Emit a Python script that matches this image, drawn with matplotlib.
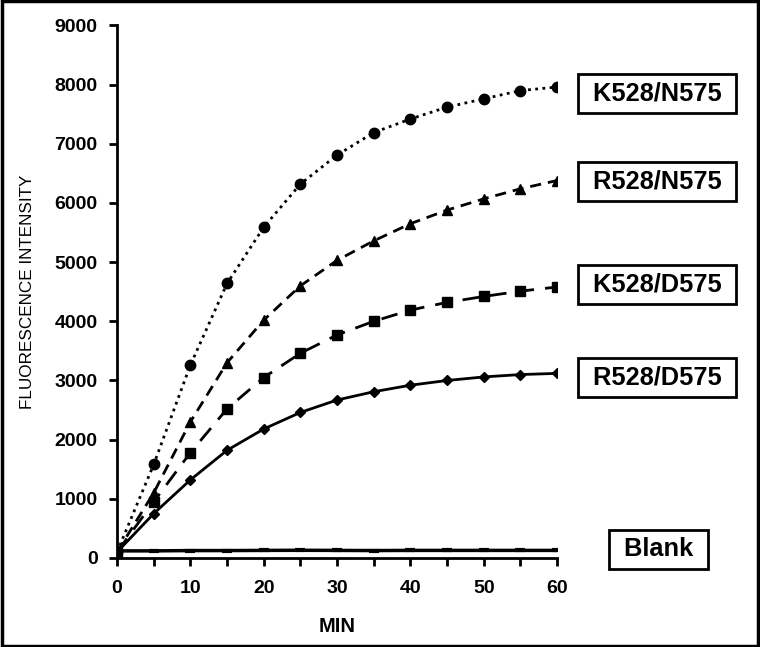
import matplotlib
matplotlib.use("Agg")
import matplotlib.pyplot as plt
from matplotlib.patches import Rectangle

plt.rcParams['font.family'] = ['Liberation Sans', 'DejaVu Sans']

minutes = [0, 5, 10, 15, 20, 25, 30, 35, 40, 45, 50, 55, 60]
k528_n575 = [100, 1580, 3260, 4640, 5590, 6320, 6810, 7190, 7420, 7620, 7760, 7900, 7960]
r528_n575 = [100, 1100, 2300, 3300, 4020, 4600, 5030, 5360, 5650, 5880, 6070, 6240, 6380]
k528_d575 = [100, 950, 1780, 2520, 3050, 3460, 3770, 4000, 4190, 4320, 4420, 4510, 4580]
r528_d575 = [100, 750, 1320, 1820, 2180, 2460, 2670, 2810, 2920, 3000, 3060, 3100, 3120]
blank = [120, 120, 125, 125, 128, 130, 128, 125, 128, 128, 128, 128, 128]
labels = ["K528/N575", "R528/N575", "K528/D575", "R528/D575", "Blank"]
label_y = [7850, 6360, 4620, 3050, 145]

fig = plt.figure(figsize=(7.6, 6.47), dpi=100)
ax = fig.add_axes([0.154, 0.1376, 0.579, 0.823])

ax.plot(minutes, k528_n575, linestyle=(0, (1, 1.6)), color='black', lw=2,
        marker='o', ms=7.5, mfc='black', mec='black')
ax.plot(minutes, r528_n575, linestyle=(0, (4, 2.5)), color='black', lw=2,
        marker='^', ms=7.5)
ax.plot(minutes, k528_d575, linestyle=(0, (6, 4)), color='black', lw=2,
        marker='s', ms=7.5)
ax.plot(minutes, r528_d575, linestyle='-', color='black', lw=2,
        marker='D', ms=5.5)
ax.plot(minutes, blank, linestyle='-', color='black', lw=2.5,
        marker='_', ms=7, mew=3)

ax.set_xlim(0, 60)
ax.set_ylim(0, 9000)
ax.set_xticks(range(0, 61, 10))
ax.set_yticks(range(0, 9001, 1000))
ax.set_xticks(range(0, 61, 5), minor=True)
for s in ['top', 'right']:
    ax.spines[s].set_visible(False)
for s in ['left', 'bottom']:
    ax.spines[s].set_linewidth(2)
ax.tick_params(axis='both', which='major', direction='out', length=6, width=2, labelsize=14)
ax.tick_params(axis='x', which='minor', direction='out', length=6, width=2)
for t in ax.get_xticklabels() + ax.get_yticklabels():
    t.set_fontweight('bold')
ax.tick_params(axis='x', pad=10)
ax.tick_params(axis='y', pad=8)

ax.set_xlabel("MIN", fontsize=14.5, fontweight='bold', labelpad=14)
ax.set_ylabel("FLUORESCENCE INTENSITY", fontsize=12.3, labelpad=14)

for lab, yv in zip(labels, label_y):
    off = 60 if lab == 'Blank' else 29
    ax.annotate(" " + lab + " ", xy=(1.0, yv), xycoords=('axes fraction', 'data'),
                xytext=(off, 0), textcoords='offset pixels',
                ha='left', va='center',
                fontsize=18.3, fontweight='bold', annotation_clip=False,
                bbox=dict(boxstyle='square,pad=0.3', fc='white', ec='black', lw=2))

fig.patches.append(Rectangle((0.002, 0.002), 0.996, 0.996, transform=fig.transFigure,
                             fill=False, ec='black', lw=2.5))

fig.savefig("out.png", dpi=100)
